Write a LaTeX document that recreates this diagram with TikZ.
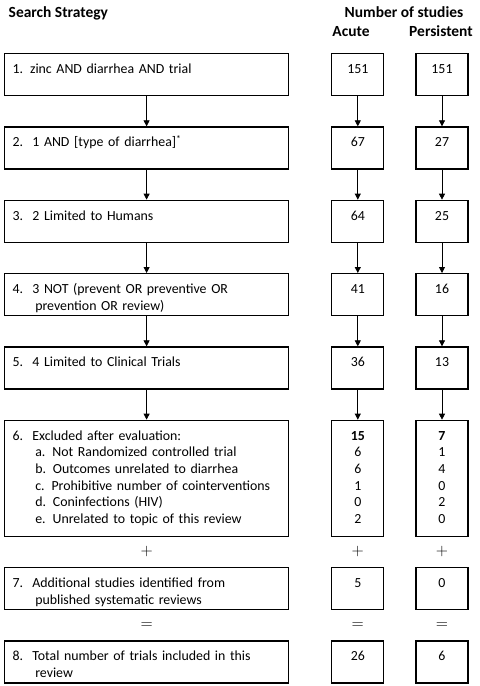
\documentclass[tikz,border=0pt]{standalone}
\usepackage{fontspec}
\setmainfont{Carlito}
\usetikzlibrary{arrows.meta,positioning}

\begin{document}
\begin{tikzpicture}[x=0.75pt,y=-0.75pt,>={Triangle[length=4.5pt,width=4.5pt]},
 font=\fontsize{10.4}{12.5}\selectfont,node distance=22.6pt,
 stratbox/.style={draw,line width=0.9pt,inner xsep=6pt,inner ysep=0pt,text width=201pt,
  align=left,text height=15pt,text depth=#1},
 stratbox/.default=16.5pt,
 numbox/.style={draw,line width=0.9pt,inner sep=0pt,text width=39pt,
  align=center,text height=15pt,text depth=#1},
 numbox/.default=16.5pt,
 heading/.style={font=\fontsize{11.6}{14}\selectfont\bfseries},
 sign/.style={font=\fontsize{12.5}{14}\selectfont}]
\useasboundingbox (0,0) rectangle (479,686);
\node[heading,anchor=base west] (hstrat) at (4,17) {Search Strategy};
\node[heading,anchor=base] (hnum) at (404,17) {Number of studies};
\node[heading,anchor=base] (hacute) at (351,36) {Acute};
\node[heading,anchor=base] (hpers) at (441,36) {Persistent};

\node[stratbox,anchor=north west] (s1) at (4,53) {1. zinc AND diarrhea AND trial};
\node[stratbox,below=of s1] (s2) {2.~~1 AND [type of diarrhea]\textsuperscript{*}};
\node[stratbox,below=of s2] (s3) {3.~~2 Limited to Humans};
\node[stratbox,below=of s3] (s4) {4.~~3 NOT (prevent OR preventive OR\\
 \hspace*{17pt}prevention OR review)};
\node[stratbox,below=of s4] (s5) {5.~~4 Limited to Clinical Trials};
\node[stratbox=72pt,below=of s5] (s6) {6.~~Excluded after evaluation:\\
 \hspace*{17pt}a. Not Randomized controlled trial\\
 \hspace*{17pt}b. Outcomes unrelated to diarrhea\\
 \hspace*{17pt}c. Prohibitive number of cointerventions\\
 \hspace*{17pt}d. Coninfections (HIV)\\
 \hspace*{17pt}e. Unrelated to topic of this review};
\node[stratbox,below=of s6] (s7) {7.~~Additional studies identified from\\
 \hspace*{17pt}published systematic reviews};
\node[stratbox,below=of s7] (s8) {8.~~Total number of trials included in this\\
 \hspace*{17pt}review};

\node[numbox,right=31.5pt of s1] (a1) {151};
\node[numbox,below=of a1] (a2) {67};
\node[numbox,below=of a2] (a3) {64};
\node[numbox,below=of a3] (a4) {41};
\node[numbox,below=of a4] (a5) {36};
\node[numbox=72pt,below=of a5] (a6) {\textbf{15}\\6\\6\\1\\0\\2};
\node[numbox,below=of a6] (a7) {5};
\node[numbox,below=of a7] (a8) {26};

\node[numbox,right=23.25pt of a1] (p1) {151};
\node[numbox,below=of p1] (p2) {27};
\node[numbox,below=of p2] (p3) {25};
\node[numbox,below=of p3] (p4) {16};
\node[numbox,below=of p4] (p5) {13};
\node[numbox=72pt,below=of p5] (p6) {\textbf{7}\\1\\4\\0\\2\\0};
\node[numbox,below=of p6] (p7) {0};
\node[numbox,below=of p7] (p8) {6};

\path[->,line width=0.6pt]
 (s1) edge (s2) (s2) edge (s3) (s3) edge (s4) (s4) edge (s5) (s5) edge (s6)
 (a1) edge (a2) (a2) edge (a3) (a3) edge (a4) (a4) edge (a5) (a5) edge (a6)
 (p1) edge (p2) (p2) edge (p3) (p3) edge (p4) (p4) edge (p5) (p5) edge (p6);

\path (s6) -- node[sign] (plusS) {$+$} (s7);
\path (a6) -- node[sign] (plusA) {$+$} (a7);
\path (p6) -- node[sign] (plusP) {$+$} (p7);
\path (s7) -- node[sign] (eqS) {$=$} (s8);
\path (a7) -- node[sign] (eqA) {$=$} (a8);
\path (p7) -- node[sign] (eqP) {$=$} (p8);
\end{tikzpicture}
\end{document}
